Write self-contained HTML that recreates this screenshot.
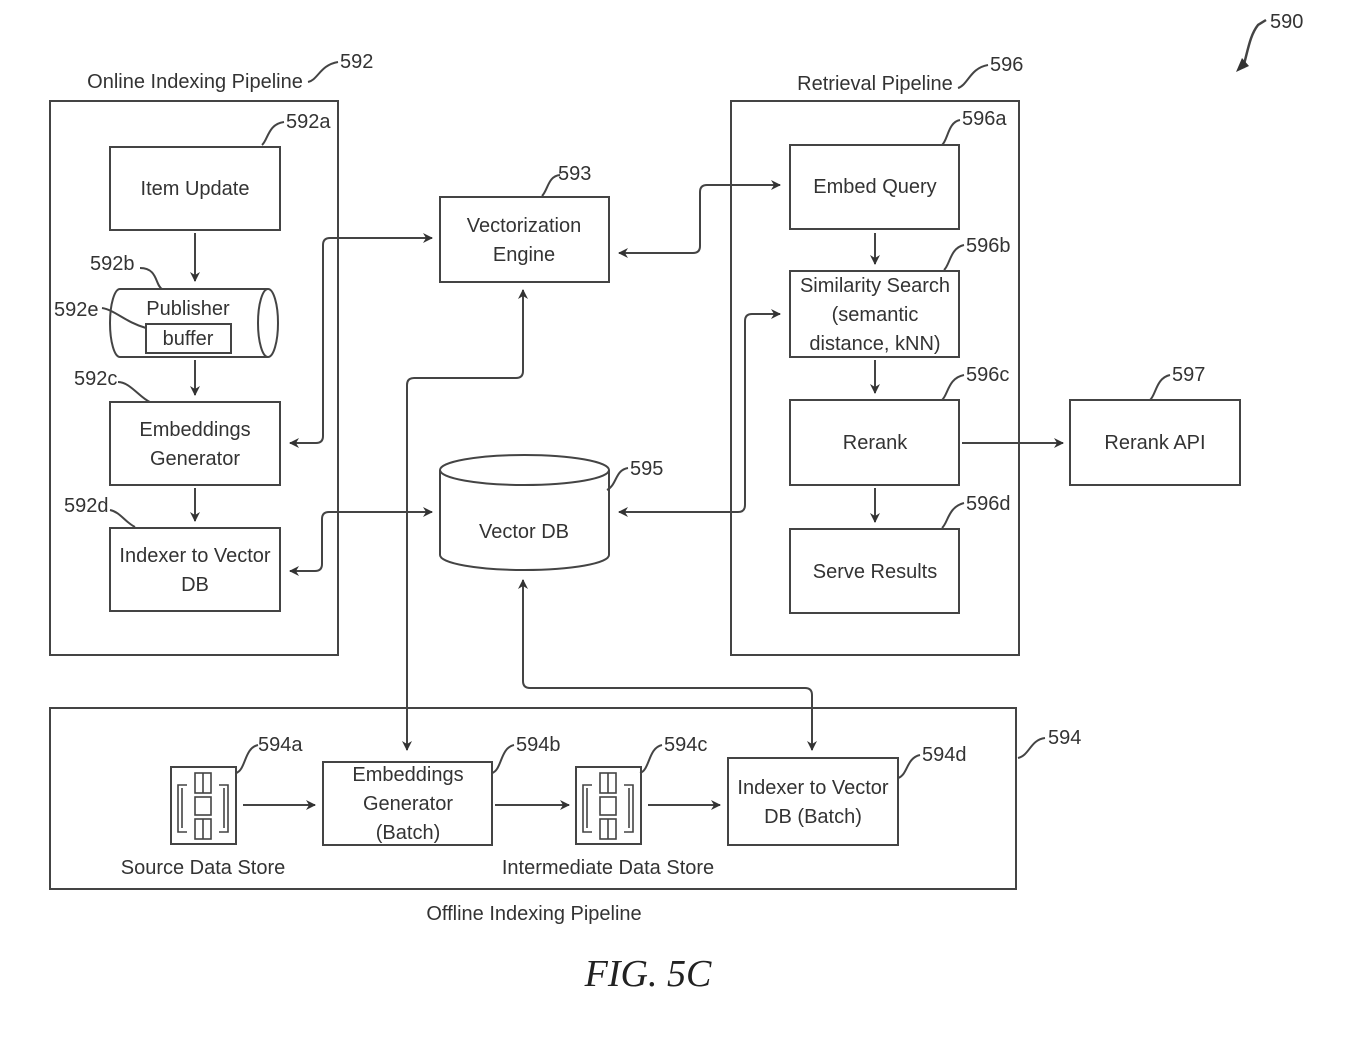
<!DOCTYPE html>
<html><head><meta charset="utf-8"><style>
html,body{margin:0;padding:0;background:#fff}
svg{display:block}
text{font-family:"Liberation Sans",sans-serif;font-size:20px;fill:#333}
</style></head><body>
<svg width="1358" height="1049" viewBox="0 0 1358 1049" xmlns="http://www.w3.org/2000/svg">
<defs>
<marker id="a" markerWidth="10" markerHeight="10" refX="9" refY="5" orient="auto" markerUnits="userSpaceOnUse"><path d="M0,0 L10,5 L0,10 L3,5 z" fill="#333"/></marker>
<marker id="s" markerWidth="10" markerHeight="10" refX="1" refY="5" orient="auto" markerUnits="userSpaceOnUse"><path d="M10,0 L0,5 L10,10 L7,5 z" fill="#333"/></marker>
</defs>
<g fill="none" stroke="#444" stroke-width="2">
<!-- containers -->
<rect x="50" y="101" width="288" height="554"/>
<rect x="731" y="101" width="288" height="554"/>
<rect x="50" y="708" width="966" height="181"/>
<!-- left boxes -->
<rect x="110" y="147" width="170" height="83"/>
<path d="M120,289 L268,289 M120,357 L268,357 M120,289 A10,34 0 0 0 120,357"/>
<ellipse cx="268" cy="323" rx="10" ry="34"/>
<rect x="146" y="324" width="85" height="29"/>
<rect x="110" y="402" width="170" height="83"/>
<rect x="110" y="528" width="170" height="83"/>
<!-- middle -->
<rect x="440" y="197" width="169" height="85"/>
<path d="M440,470 L440,555 A84.5,15 0 0 0 609,555 L609,470"/>
<ellipse cx="524.5" cy="470" rx="84.5" ry="15"/>
<!-- right -->
<rect x="790" y="145" width="169" height="84"/>
<rect x="790" y="271" width="169" height="86"/>
<rect x="790" y="400" width="169" height="85"/>
<rect x="790" y="529" width="169" height="84"/>
<rect x="1070" y="400" width="170" height="85"/>
<!-- bottom -->
<rect x="323" y="762" width="169" height="83"/>
<rect x="728" y="758" width="170" height="87"/>
</g>
<!-- store icons -->
<g fill="none" stroke="#444" stroke-width="1.6">
<g id="ic">
<rect x="171" y="767" width="65" height="77" stroke-width="2"/>
<path d="M187,785 H178 V832 H187 M219,785 H228 V832 H219"/>
<path d="M182,788 V828 M224,788 V828"/>
<rect x="195" y="773" width="16" height="20"/>
<rect x="195" y="797" width="16" height="18"/>
<rect x="195" y="819" width="16" height="20"/>
<path d="M203,773 V793 M203,819 V839"/>
</g>
<use href="#ic" x="405"/>
</g>
<!-- connectors -->
<g fill="none" stroke="#444" stroke-width="2">
<path d="M195,233 V281" marker-end="url(#a)"/>
<path d="M195,360 V395" marker-end="url(#a)"/>
<path d="M195,488 V521" marker-end="url(#a)"/>
<path d="M875,233 V264" marker-end="url(#a)"/>
<path d="M875,360 V393" marker-end="url(#a)"/>
<path d="M875,488 V522" marker-end="url(#a)"/>
<path d="M962,443 H1063" marker-end="url(#a)"/>
<path d="M243,805 H315" marker-end="url(#a)"/>
<path d="M495,805 H569" marker-end="url(#a)"/>
<path d="M648,805 H720" marker-end="url(#a)"/>
<path d="M290,443 H316 Q323,443 323,436 V245 Q323,238 330,238 H432" marker-start="url(#s)" marker-end="url(#a)"/>
<path d="M290,571 H315 Q322,571 322,564 V519 Q322,512 329,512 H432" marker-start="url(#s)" marker-end="url(#a)"/>
<path d="M619,253 H693 Q700,253 700,246 V192 Q700,185 707,185 H780" marker-start="url(#s)" marker-end="url(#a)"/>
<path d="M619,512 H738 Q745,512 745,505 V321 Q745,314 752,314 H780" marker-start="url(#s)" marker-end="url(#a)"/>
<path d="M523,290 V371 Q523,378 516,378 H414 Q407,378 407,385 V750" marker-start="url(#s)" marker-end="url(#a)"/>
<path d="M523,580 V681 Q523,688 530,688 H805 Q812,688 812,695 V750" marker-start="url(#s)" marker-end="url(#a)"/>
<!-- leaders -->
<path d="M308,82 C318,80 320,65 338,62"/>
<path d="M262,145 C268,140 268,124 284,122"/>
<path d="M140,268 C158,268 155,285 162,289"/>
<path d="M102,308 C115,310 125,322 146,328"/>
<path d="M118,382 C130,382 140,398 150,402"/>
<path d="M110,510 C120,512 125,522 135,527"/>
<path d="M542,196 C548,190 548,176 560,175"/>
<path d="M607,490 C617,485 615,470 628,468"/>
<path d="M958,88 C968,85 970,68 988,65"/>
<path d="M942,145 C948,140 948,122 960,120"/>
<path d="M944,270 C950,265 950,248 964,245"/>
<path d="M942,400 C948,395 948,378 964,375"/>
<path d="M942,528 C948,523 948,507 964,503"/>
<path d="M1150,400 C1156,395 1156,378 1170,375"/>
<path d="M236,773 C246,770 244,748 258,745"/>
<path d="M492,773 C502,770 500,748 514,745"/>
<path d="M640,773 C650,770 648,748 662,745"/>
<path d="M898,778 C908,775 906,758 920,755"/>
<path d="M1018,758 C1030,755 1030,740 1045,738"/>
<path d="M1243,68 C1248,50 1250,35 1258,25 L1266,20" stroke-width="2.5"/>
</g>
<path d="M1236,72 L1242,58 L1249,66 z" fill="#333"/>
<!-- texts -->
<g text-anchor="middle">
<text x="195" y="88">Online Indexing Pipeline</text>
<text x="195" y="195">Item Update</text>
<text x="188" y="315">Publisher</text>
<text x="188" y="345">buffer</text>
<text x="195" y="436">Embeddings</text>
<text x="195" y="465">Generator</text>
<text x="195" y="562">Indexer to Vector</text>
<text x="195" y="591">DB</text>
<text x="524" y="232">Vectorization</text>
<text x="524" y="261">Engine</text>
<text x="524" y="538">Vector DB</text>
<text x="875" y="90">Retrieval Pipeline</text>
<text x="875" y="193">Embed Query</text>
<text x="875" y="292">Similarity Search</text>
<text x="875" y="321">(semantic</text>
<text x="875" y="350">distance, kNN)</text>
<text x="875" y="449">Rerank</text>
<text x="875" y="578">Serve Results</text>
<text x="1155" y="449">Rerank API</text>
<text x="408" y="781">Embeddings</text>
<text x="408" y="810">Generator</text>
<text x="408" y="839">(Batch)</text>
<text x="813" y="794">Indexer to Vector</text>
<text x="813" y="823">DB (Batch)</text>
<text x="203" y="874">Source Data Store</text>
<text x="608" y="874">Intermediate Data Store</text>
<text x="534" y="920">Offline Indexing Pipeline</text>
</g>
<g>
<text x="340" y="68">592</text>
<text x="286" y="128">592a</text>
<text x="90" y="270">592b</text>
<text x="54" y="316">592e</text>
<text x="74" y="385">592c</text>
<text x="64" y="512">592d</text>
<text x="558" y="180">593</text>
<text x="630" y="475">595</text>
<text x="990" y="71">596</text>
<text x="962" y="125">596a</text>
<text x="966" y="252">596b</text>
<text x="966" y="381">596c</text>
<text x="966" y="510">596d</text>
<text x="1172" y="381">597</text>
<text x="258" y="751">594a</text>
<text x="516" y="751">594b</text>
<text x="664" y="751">594c</text>
<text x="922" y="761">594d</text>
<text x="1048" y="744">594</text>
<text x="1270" y="28">590</text>
</g>
<text x="648" y="986" text-anchor="middle" style="font-family:'Liberation Serif',serif;font-style:italic;font-size:38px;fill:#222">FIG. 5C</text>
</svg>
</body></html>
